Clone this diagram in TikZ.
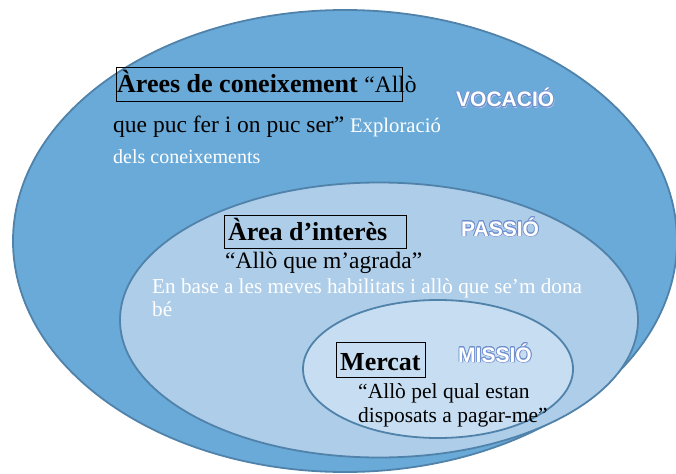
\documentclass[tikz,border=0pt]{standalone}
\usepackage{fontspec}
\setmainfont{Liberation Serif}
\newfontfamily\artfont{Liberation Sans}
\usepackage[copies]{contour}
\usetikzlibrary{positioning, shapes.geometric}
\usepackage{xcolor}
\definecolor{vocacio-color}{HTML}{6AAAD8}
\definecolor{passio-color}{HTML}{ADCDE9}
\definecolor{missio-color}{HTML}{C7DEF2}
\definecolor{border-color}{HTML}{5082AA}
\definecolor{art-line}{HTML}{6F8FCF}
\definecolor{art-shadow}{HTML}{B4C4E6}

\contourlength{0.7pt}
\newcommand{\arttext}[1]{\artfont\bfseries\fontsize{21}{24}\selectfont
  \rlap{\kern1.2pt\raisebox{-1.8pt}{\textcolor{art-shadow}{#1}}}\textcolor{white}{\contour{art-line}{#1}}}

\begin{document}
\begin{tikzpicture}[x=1pt, y=-1pt]
\useasboundingbox (0,0) rectangle (676,473);

\begin{scope}[every node/.style={ellipse, draw=border-color, line width=1.8pt, inner sep=0pt}]
\node(vocacio) [fill=vocacio-color, minimum width=664, minimum height=462] at (345,241) {};
\node(passio)  [fill=passio-color,  minimum width=518, minimum height=275] at (379,320) {};
\node(missio)  [fill=missio-color,  minimum width=270, minimum height=138] at (438,369) {};
\end{scope}

\begin{scope}[every node/.style={inner sep=0pt, anchor=base west},
  head/.style={font=\bfseries\fontsize{26}{30}\selectfont},
  quote/.style={font=\fontsize{23.5}{28}\selectfont},
  note/.style={text=white, font=\fontsize{#1}{24}\selectfont},
  headbox/.style={draw, line width=0.8pt, anchor=center}]

% outer ring
\node(boxarees) [headbox, minimum width=286, minimum height=34] at (259,84) {};
\node(arees)  [head] at (117,93) {Àrees de coneixement\ {\mdseries\fontsize{23.5}{28}\selectfont “Allò}};
\node(arees2) [quote] at (113,133) {que puc fer i on puc ser” \textcolor{white}{\fontsize{20.7}{24}\selectfont Exploració}};
\node(arees3) [note=20] at (113,163) {dels coneixements};
\node(tvocacio) at (456,107) {\arttext{VOCACIÓ}};

% middle ring
\node(boxinteres) [headbox, minimum width=182, minimum height=33] at (315,231.5) {};
\node(interes)  [head]  at (228,240) {Àrea d’interès};
\node(interes2) [quote] at (225,268) {“Allò que m’agrada”};
\node(interes3) [note=21.2] at (152,293) {En base a les meves habilitats i allò que se’m dona};
\node(interes4) [note=21.2] at (152,316) {bé};
\node(tpassio) at (461,236) {\arttext{PASSIÓ}};

% inner ring
\node(boxmercat) [headbox, minimum width=89, minimum height=35] at (380.5,359.5) {};
\node(mercat)  [head] at (340,370) {Mercat};
\node(mercat2) [font=\fontsize{21.5}{24}\selectfont] at (358,398) {“Allò pel qual estan};
\node(mercat3) [font=\fontsize{21.5}{24}\selectfont] at (358,422) {disposats a pagar-me”};
\node(tmissio) at (458,362) {\arttext{MISSIÓ}};
\end{scope}

\end{tikzpicture}
\end{document}
